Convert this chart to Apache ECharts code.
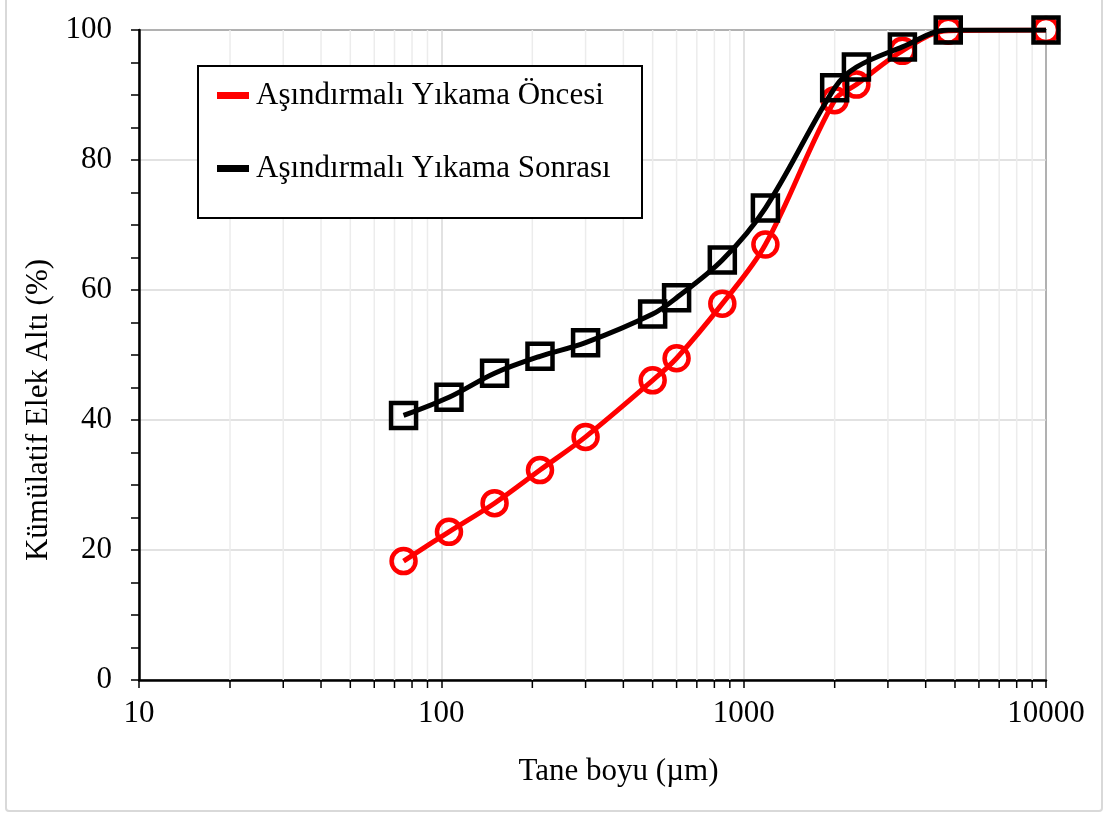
<!DOCTYPE html>
<html>
<head>
<meta charset="utf-8">
<script src="https://cdn.jsdelivr.net/npm/echarts@6/dist/echarts.min.js"></script>
<style>html,body{margin:0;padding:0;background:#fff;}#c{width:1107px;height:814px;}</style>
</head>
<body>
<div id="c"></div>
<script>
const sieveSizes = [75, 106, 150, 212, 300, 500, 600, 850, 1180, 2000, 2360, 3350, 4750, 10000];
const onceValues = [18.3, 22.8, 27.2, 32.3, 37.4, 46.1, 49.5, 57.9, 67.0, 89.2, 91.6, 96.8, 99.9, 100];
const sonraValues = [40.7, 43.5, 47.2, 49.8, 51.9, 56.3, 58.8, 64.6, 72.6, 91.1, 94.3, 97.4, 100, 100];
const seriesNames = ['Aşındırmalı Yıkama Öncesi', 'Aşındırmalı Yıkama Sonrası'];
const minorXValues = [20,30,40,50,60,70,80,90,200,300,400,500,600,700,800,900,2000,3000,4000,5000,6000,7000,8000,9000];

const FONT = '"Liberation Serif", "Times New Roman", serif';
const FS = 31;
const chart = echarts.init(document.getElementById('c'), null, {renderer: 'canvas'});

function pairs(xs, ys) { return xs.map((x, i) => [x, ys[i]]); }

const option = {
  animation: false,
  backgroundColor: '#fff',
  grid: {left: 139, right: 61, top: 30, bottom: 134, show: true, borderColor: '#000', borderWidth: 1.5, backgroundColor: 'transparent'},
  graphic: [
    {type: 'rect', shape: {x: 6, y: -10, width: 1096, height: 821, r: 3}, style: {fill: 'none', stroke: '#d9d9d9', lineWidth: 2}, silent: true, z: -10},
    {type: 'rect', shape: {x: 198, y: 66, width: 444, height: 152}, style: {fill: '#fff', stroke: '#000', lineWidth: 2}, silent: true, z: 5}
  ],
  legend: {
    orient: 'vertical', left: 217, top: 80,
    padding: 0, z: 6,
    itemGap: 42, itemWidth: 32, itemHeight: 7, icon: 'rect',
    textStyle: {fontFamily: FONT, fontSize: FS, color: '#000', padding: [0, 0, 0, 2]},
    data: [
      {name: seriesNames[0], itemStyle: {color: '#ff0000', borderWidth: 0}},
      {name: seriesNames[1], itemStyle: {color: '#000000', borderWidth: 0}}
    ]
  },
  xAxis: {
    type: 'log', logBase: 10, min: 10, max: 10000,
    name: 'Tane boyu (µm)', nameLocation: 'middle', nameGap: 76,
    nameTextStyle: {fontFamily: FONT, fontSize: FS, color: '#000', padding: [0, 0, 0, 52]},
    axisLine: {show: true, onZero: false, lineStyle: {color: '#000', width: 2.5}},
    axisTick: {show: true, inside: false, length: 8, lineStyle: {color: '#000', width: 1.5}},
    axisLabel: {fontFamily: FONT, fontSize: FS, color: '#000', margin: 18, formatter: v => String(v)},
    splitLine: {show: true, lineStyle: {color: '#d9d9d9', width: 1.5}}
  },
  yAxis: {
    type: 'value', min: 0, max: 100, interval: 20,
    name: 'Kümülatif Elek Altı (%)', nameLocation: 'middle', nameGap: 82, nameRotate: 90,
    nameTextStyle: {fontFamily: FONT, fontSize: FS, color: '#000', padding: [0, 110, 0, 0]},
    axisLine: {show: true, lineStyle: {color: '#000', width: 2.5}},
    axisTick: {show: true, inside: false, length: 8, lineStyle: {color: '#000', width: 1.5}},
    minorTick: {show: true, splitNumber: 4, length: 8, lineStyle: {color: '#000', width: 1.5}},
    axisLabel: {fontFamily: FONT, fontSize: FS, color: '#000', margin: 27},
    splitLine: {show: true, lineStyle: {color: '#d9d9d9', width: 1.5}}
  },
  series: [
    {
      type: 'custom', silent: true, z: 1,
      data: minorXValues.map(v => [v]),
      clip: false,
      renderItem: function (params, api) {
        const v = api.value(0);
        const top = api.coord([v, 100]);
        const bot = api.coord([v, 0]);
        return {
          type: 'group',
          children: [
            {type: 'line', shape: {x1: bot[0], y1: bot[1], x2: top[0], y2: top[1]}, style: {stroke: '#ececec', lineWidth: 1.5}},
            {type: 'line', shape: {x1: bot[0], y1: bot[1], x2: bot[0], y2: bot[1] + 8}, style: {stroke: '#000', lineWidth: 1.5}}
          ]
        };
      }
    },
    {
      name: seriesNames[0], type: 'line', smooth: 0.35, z: 3,
      data: pairs(sieveSizes, onceValues),
      symbol: 'circle', symbolSize: 24,
      lineStyle: {color: '#ff0000', width: 5},
      itemStyle: {color: 'rgba(255,255,255,0)', borderColor: '#ff0000', borderWidth: 4.5},
      emphasis: {disabled: true}
    },
    {
      name: seriesNames[1], type: 'line', smooth: 0.35, z: 4,
      data: pairs(sieveSizes, sonraValues),
      symbol: 'rect', symbolSize: 25,
      lineStyle: {color: '#000000', width: 5},
      itemStyle: {color: 'rgba(255,255,255,0)', borderColor: '#000000', borderWidth: 4.5},
      emphasis: {disabled: true}
    }
  ]
};
chart.setOption(option);
</script>
</body>
</html>
